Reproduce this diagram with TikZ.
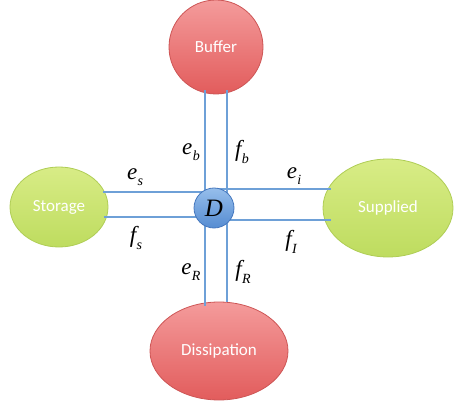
\documentclass[tikz,border=0pt]{standalone}
\usepackage{fontspec}
\setmainfont{Liberation Serif}
\newfontfamily\labfont{Carlito}
\usetikzlibrary{shapes.geometric}
\definecolor{redtop}{RGB}{244,155,155}
\definecolor{redbot}{RGB}{226,92,92}
\definecolor{redline}{RGB}{205,85,85}
\definecolor{greentop}{RGB}{216,236,134}
\definecolor{greenbot}{RGB}{190,220,95}
\definecolor{greenline}{RGB}{175,205,85}
\definecolor{bluetop}{RGB}{150,190,235}
\definecolor{bluebot}{RGB}{85,140,210}
\definecolor{blueline}{RGB}{70,120,190}
\definecolor{wire}{RGB}{110,160,215}
\newcommand{\sbl}[2]{{\itshape #1\kern0.3pt\raisebox{-0.28em}{\fontsize{14}{14}\selectfont #2}}}
\tikzset{
  redblob/.style={ellipse,top color=redtop,bottom color=redbot,draw=redline,line width=0.8pt,inner sep=0pt,font=\labfont\fontsize{17}{19}\selectfont,text=white},
  greenblob/.style={ellipse,top color=greentop,bottom color=greenbot,draw=greenline,line width=0.8pt,inner sep=0pt,font=\labfont\fontsize{17}{19}\selectfont,text=white},
  dnode/.style={circle,top color=bluetop,bottom color=bluebot,draw=blueline,line width=0.8pt,inner sep=0pt,minimum size=40pt,font=\itshape\fontsize{25}{27}\selectfont},
  wireline/.style={draw=wire,line width=2pt},
  lab/.style={font=\fontsize{23}{25}\selectfont,inner sep=0pt}
}
\begin{document}
\begin{tikzpicture}[x=1pt,y=-1pt]
\useasboundingbox (0,0) rectangle (458,401);
% nodes
\node[redblob,minimum width=94pt,minimum height=94pt] (buf) at (216,47) {Buffer};
\node[greenblob,minimum width=98pt,minimum height=80pt] (sto) at (59,207) {Storage};
\node[greenblob,minimum width=130pt,minimum height=98pt] (sup) at (388,208) {Supplied};
\node[redblob,minimum width=138pt,minimum height=98pt] (dis) at (219,351) {Dissipation};
% wires
\coordinate (vt1) at (205,90);
\coordinate (vb1) at (205,306);
\coordinate (vt2) at (227,90);
\coordinate (vb2) at (227,302);
\coordinate (hl1) at (103,192);
\coordinate (hr1) at (216,192);
\coordinate (hl2) at (104,217);
\coordinate (hr2) at (216,217);
\coordinate (hl3) at (216,189);
\coordinate (hr3) at (331,189);
\coordinate (hl4) at (216,220);
\coordinate (hr4) at (331,220);
\draw[wireline] (vt1) -- (vb1);
\draw[wireline] (vt2) -- (vb2);
\draw[wireline] (hl1) -- (hr1);
\draw[wireline] (hl2) -- (hr2);
\draw[wireline] (hl3) -- (hr3);
\draw[wireline] (hl4) -- (hr4);
\node[dnode] (d) at (214,208) {D};
% labels
\node[lab] (eb) at (191,152) {\sbl{e}{b}};
\node[lab] (fb) at (242,152) {\sbl{f}{b}};
\node[lab] (es) at (135,177) {\sbl{e}{s}};
\node[lab] (fs) at (136,238) {\sbl{f}{s}};
\node[lab] (ei) at (294,176) {\sbl{e}{i}};
\node[lab] (fi) at (291,242) {\sbl{f}{I}};
\node[lab] (er) at (191,272) {\sbl{e}{R}};
\node[lab] (fr) at (243,272) {\sbl{f}{R}};
\end{tikzpicture}
\end{document}
